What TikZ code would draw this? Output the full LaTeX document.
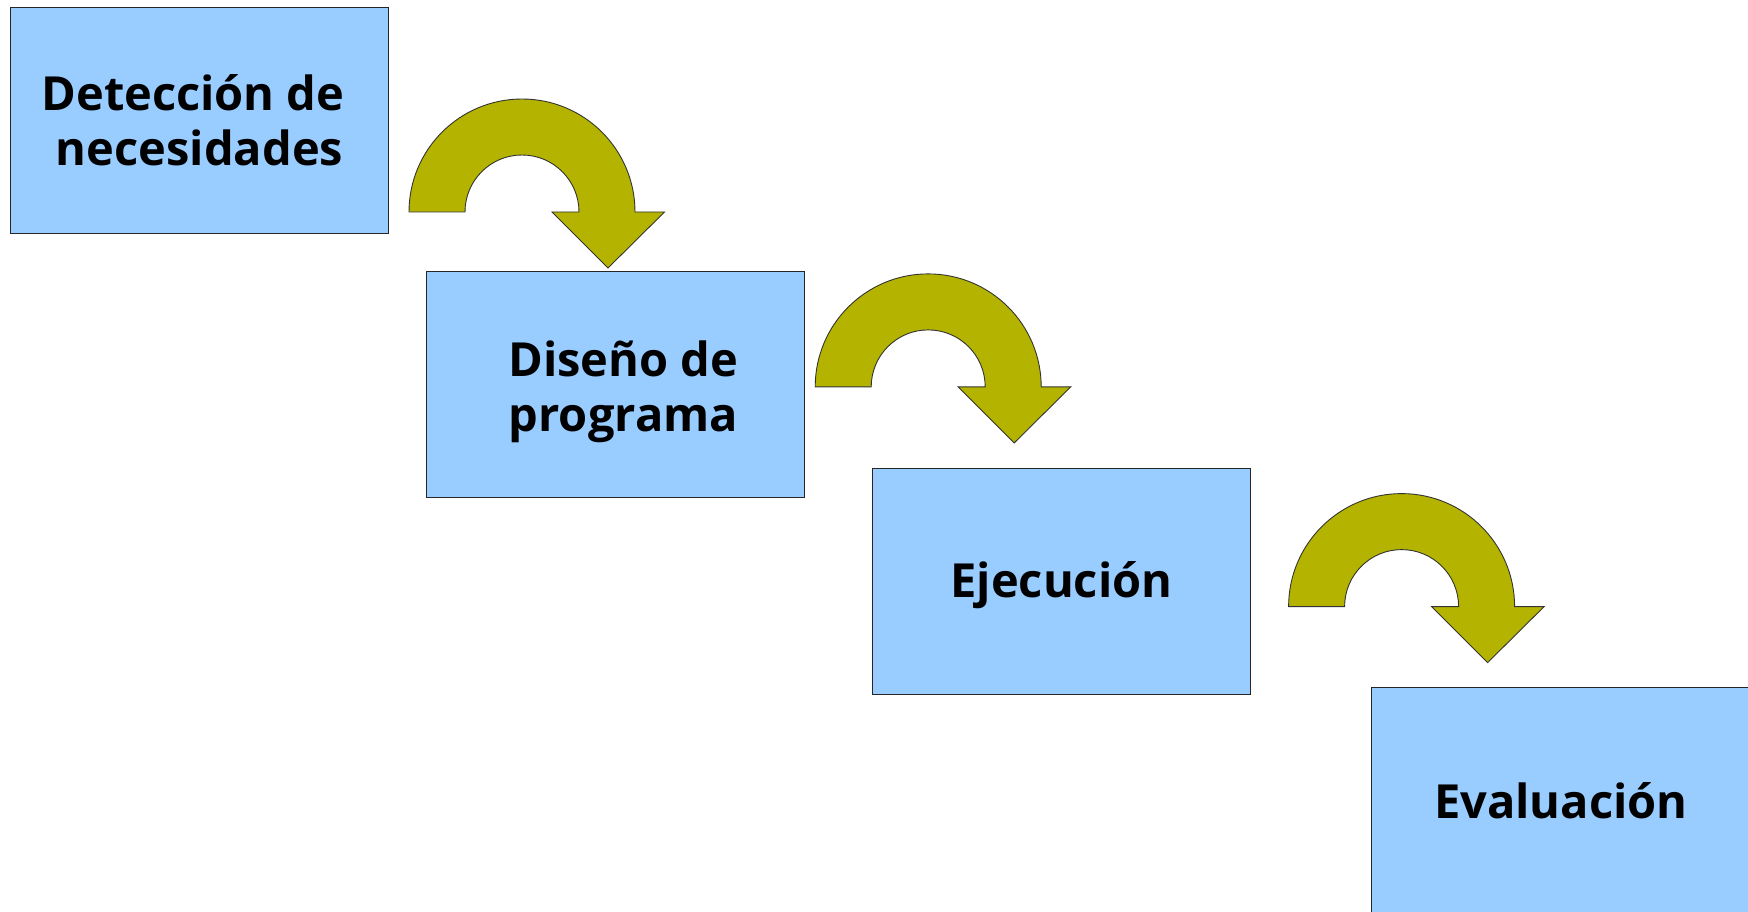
\documentclass[tikz,border=0pt]{standalone}
\usepackage{fontspec}
\setmainfont{Open Sans}
\usetikzlibrary{calc}
\definecolor{boxblue}{RGB}{153,204,255}
\definecolor{olive}{RGB}{180,180,0}
\tikzset{
  stagebox/.style={draw=black!85, line width=1pt, fill=boxblue, anchor=north west,
    minimum width=378pt, minimum height=226pt, inner sep=0pt},
  stagetext/.style={inner sep=0pt, align=center,
    font=\fontsize{47}{55}\selectfont\bfseries, text=black},
  uarrow/.style={draw=black!80, line width=0.9pt, fill=olive, line join=miter}
}
\newcommand{\uturn}[1]{%
  \path[uarrow] ($(#1)+(-113,0)$) arc[start angle=180, end angle=360, radius=113]
    -- ($(#1)+(142.5,0)$) -- ($(#1)+(86,56)$) -- ($(#1)+(30,0)$)
    -- ($(#1)+(57,0)$) arc[start angle=360, end angle=180, radius=57] -- cycle;}
\begin{document}
\begin{tikzpicture}[x=1pt,y=-1pt]
\useasboundingbox (0,0) rectangle (1748,912);
\node[stagebox] (b1) at (10,6.7) {};
\node[stagebox] (b2) at (425.9,270.9) {};
\node[stagebox] (b3) at (871.9,468.3) {};
\node[stagebox] (b4) at (1371.4,686.8) {};
\node[stagetext] (t1) at (b1.center) {Detección de\kern13pt\\necesidades};
\node[stagetext] (t2) at ($(b2.center)+(8,7)$) {Diseño de\\programa};
\node[stagetext] (t3) at ($(b3.center)+(0,3)$) {Ejecución};
\node[stagetext] (t4) at (b4.center) {Evaluación};
\coordinate (a1) at (522,212);
\coordinate (a2) at (928.2,386.9);
\coordinate (a3) at (1401.6,606.6);
\uturn{a1}
\uturn{a2}
\uturn{a3}
\end{tikzpicture}
\end{document}
